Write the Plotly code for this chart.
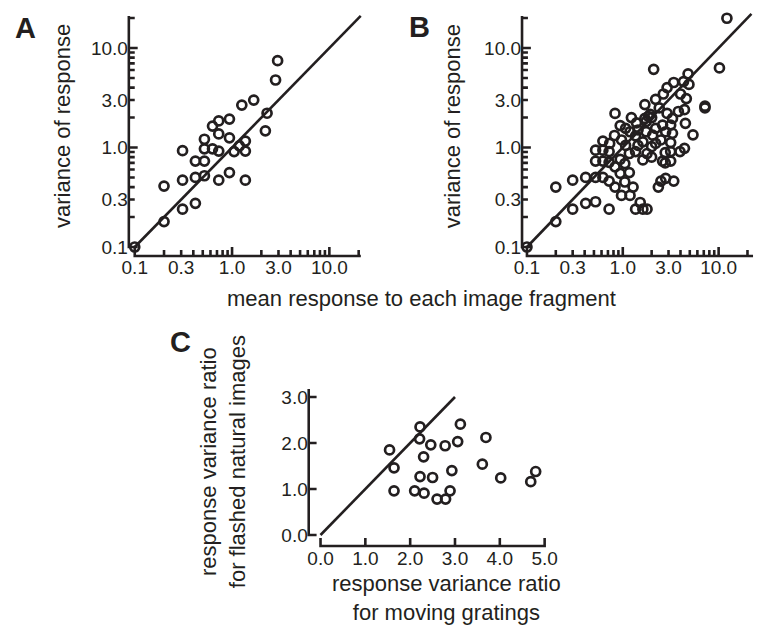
import math
import plotly.graph_objects as go

# ---------------- data ----------------
# Panel A: mean response vs variance (log-log)
a_mean = [0.1, 0.2, 0.2, 0.31, 0.31, 0.31, 0.42, 0.42, 0.42, 0.52, 0.52, 0.52, 0.52,
          0.63, 0.63, 0.73, 0.73, 0.73, 0.73, 0.94, 0.94, 0.94, 1.05, 1.19, 1.37, 1.37,
          1.37, 1.26, 1.67, 2.2, 2.29, 2.8, 2.94]
a_var = [0.1, 0.41, 0.18, 0.93, 0.47, 0.24, 0.73, 0.50, 0.275, 1.21, 0.97, 0.73, 0.52,
         1.64, 0.97, 1.85, 1.37, 0.92, 0.47, 1.93, 1.25, 0.56, 0.91, 1.04, 1.16, 0.92,
         0.47, 2.67, 3.0, 1.47, 2.21, 4.77, 7.45]

# Panel B
b_mean = [0.1, 0.2, 0.2, 0.3, 0.3, 0.41, 0.41, 0.52, 0.52, 0.52, 0.52, 0.62, 0.62, 0.62,
          0.62, 0.72, 0.72, 0.72, 0.72, 0.73, 0.83, 0.83, 0.82, 0.83, 0.94, 0.94, 0.94,
          0.97, 0.97, 1.05, 1.05, 1.07, 1.07, 1.17, 1.17, 1.19, 1.19, 1.23, 1.28, 1.36,
          1.36, 1.36, 1.39, 1.44, 1.44, 1.52, 1.62, 1.62, 1.62, 1.7, 1.7, 1.75, 1.75,
          1.79, 1.79, 1.85, 1.93, 2.0, 2.0, 2.0, 2.05, 2.1, 2.2, 2.2, 2.2, 2.35, 2.4,
          2.5, 2.5, 2.6, 2.6, 2.65, 2.77, 2.77, 2.8, 2.8, 2.9, 2.9, 3.16, 3.16, 3.16,
          3.16, 3.3, 3.3, 3.4, 3.4, 3.8, 3.95, 4.0, 4.3, 4.4, 4.4, 4.5, 4.6, 4.8, 4.9,
          5.4, 7.2, 7.2, 10.2, 12.2]
b_var = [0.1, 0.4, 0.18, 0.47, 0.24, 0.5, 0.275, 0.5, 0.285, 0.94, 0.73, 0.94, 0.73, 0.5,
         1.16, 0.91, 0.71, 0.46, 0.24, 1.1, 0.64, 0.4, 1.32, 2.2, 0.76, 0.55, 1.66,
         0.33, 1.19, 0.69, 0.45, 1.56, 1.05, 0.87, 0.56, 0.33, 1.44, 2.0, 0.4, 1.31,
         0.91, 0.24, 1.77, 1.5, 1.05, 0.28, 1.14, 0.75, 0.24, 2.7, 1.96, 1.44, 1.82,
         0.87, 0.24, 2.05, 2.15, 1.02, 0.8, 2.0, 1.33, 6.1, 1.1, 1.56, 3.05, 0.4, 2.5,
         1.19, 0.46, 0.73, 1.68, 3.45, 0.89, 0.7, 0.49, 1.44, 4.0, 2.2, 1.12, 0.91, 0.73,
         1.68, 1.39, 1.96, 4.5, 0.46, 2.3, 0.91, 3.45, 4.6, 0.98, 2.4, 1.75, 3.1, 5.5, 4.3,
         1.34, 2.6, 2.5, 6.3, 19.9]

# Panel C
c_grating = [1.54, 1.64, 1.64, 2.22, 2.21, 2.30, 2.22, 2.10, 2.31, 2.46, 2.50, 2.60,
             2.78, 2.79, 2.89, 2.93, 3.06, 3.12, 3.69, 3.61, 4.02, 4.69, 4.80]
c_natural = [1.85, 1.46, 0.96, 2.35, 2.09, 1.70, 1.27, 0.96, 0.91, 1.96, 1.25, 0.78,
             1.94, 0.78, 0.96, 1.40, 2.03, 2.41, 2.12, 1.54, 1.24, 1.16, 1.38]

# unity lines
diag_a = [0.1, 21]
diag_b = [0.1, 22]
diag_c = [0.0, 3.0]

# ticks (log panels: every tick position, labels only on some)
log_tickvals = [0.1, 0.2, 0.3, 0.4, 0.5, 0.6, 0.7, 0.8, 0.9,
                1, 2, 3, 4, 5, 6, 7, 8, 9, 10, 20]
log_ticktext = ["0.1", "", "0.3", "", "", "", "", "", "",
                "1.0", "", "3.0", "", "", "", "", "", "", "10.0", ""]
log_long_ticks = [0.1, 1, 10]
c_xticks = [0, 1, 2, 3, 4, 5]
c_xtext = ["0.0", "1.0", "2.0", "3.0", "4.0", "5.0"]
c_yticks = [0, 1, 2, 3]
c_ytext = ["0.0", "1.0", "2.0", "3.0"]

# ---------------- style / geometry ----------------
INK = "#231f20"
FONT = "Liberation Sans, Arial, Helvetica, sans-serif"
W, H = 764, 627


def X(px):
    return px / W


def Y(py):
    return 1 - py / H


class Scale:
    """pixel <-> data mapping used to lay out one axis of a panel."""

    def __init__(self, p_ref, v_ref, px_per_unit, log, sign):
        self.p_ref, self.v_ref, self.ppu, self.log, self.sign = p_ref, v_ref, px_per_unit, log, sign

    def r(self, px):  # pixel -> range units
        base = math.log10(self.v_ref) if self.log else self.v_ref
        return base + self.sign * (px - self.p_ref) / self.ppu

    def d(self, px):  # pixel -> data value
        r = self.r(px)
        return 10 ** r if self.log else r


# panel pixel boxes (domain edges, with a few px of padding around the spines)
A_DOM_X, B_DOM_X, AB_DOM_Y = (123, 365), (523, 764), (260, 13)
C_DOM_X, C_DOM_Y = (306, 554), (550, 386)
# spine positions / extents in pixels
A_SPX, B_SPX, AB_SPY, AB_TOP = 127, 527, 256, 16
A_RIGHT, B_RIGHT = 363, 762
C_SPX, C_SPY, C_TOP, C_RIGHT = 310, 546, 389, 550

sa_x = Scale(133, 0.1, 99.0, True, 1)
sb_x = Scale(532, 0.1, 97.5, True, 1)
sab_y = Scale(247, 0.1, 99.5, True, -1)
sc_x = Scale(322, 0.0, 45.6, False, 1)
sc_y = Scale(535, 0.0, 46.0, False, -1)

marker = dict(symbol="circle-open", size=9, color=INK, line=dict(width=2.7, color=INK))
tickfont = dict(family=FONT, size=19, color=INK)


def axis(dom, scale, anchor, tickvals, ticktext, horizontal, standoff=0):
    if horizontal:
        domain = [X(dom[0]), X(dom[1])]
    else:
        domain = [Y(dom[0]), Y(dom[1])]
    d = dict(domain=domain, range=[scale.r(dom[0]), scale.r(dom[1])], anchor=anchor,
             showline=False, ticks="", tickmode="array", tickvals=tickvals,
             ticktext=ticktext, ticklabelstandoff=standoff, tickfont=tickfont,
             showgrid=False, zeroline=False)
    if scale.log:
        d["type"] = "log"
    return d


fig = go.Figure()


def add_frame(xa, ya, sx, sy, spine_x_px, spine_y_px, right_px, top_px, xticks, yticks,
              long_ticks, short_len, long_len):
    """Each spine with its tick marks is drawn as one continuous polyline."""
    # vertical spine with ticks pointing right
    xs0 = sx.d(spine_x_px)
    vx, vy = [xs0], [yticks[0]]
    for v in yticks:
        L = long_len if v in long_ticks else short_len
        vx += [xs0, sx.d(spine_x_px + L), xs0]
        vy += [v, v, v]
    vx.append(xs0)
    vy.append(sy.d(top_px))
    # horizontal spine with ticks pointing up
    ys0 = sy.d(spine_y_px)
    hx, hy = [xticks[0]], [ys0]
    for v in xticks:
        L = long_len if v in long_ticks else short_len
        hx += [v, v, v]
        hy += [ys0, sy.d(spine_y_px - L), ys0]
    hx.append(sx.d(right_px))
    hy.append(ys0)
    for px_, py_ in ((vx, vy), (hx, hy)):
        fig.add_trace(go.Scatter(x=px_, y=py_, mode="lines",
                                 line=dict(color=INK, width=2.6, simplify=False),
                                 xaxis=xa, yaxis=ya, showlegend=False, hoverinfo="skip"))


add_frame("x", "y", sa_x, sab_y, A_SPX, AB_SPY, A_RIGHT, AB_TOP,
          log_tickvals, log_tickvals, log_long_ticks, 6, 9)
add_frame("x2", "y2", sb_x, sab_y, B_SPX, AB_SPY, B_RIGHT, AB_TOP,
          log_tickvals, log_tickvals, log_long_ticks, 6, 9)
add_frame("x3", "y3", sc_x, sc_y, C_SPX, C_SPY, C_RIGHT, C_TOP,
          c_xticks, c_yticks, [], 8, 8)

fig.add_trace(go.Scatter(x=diag_a, y=diag_a, mode="lines", line=dict(color=INK, width=2.6),
                         xaxis="x", yaxis="y", showlegend=False, hoverinfo="skip"))
fig.add_trace(go.Scatter(x=a_mean, y=a_var, mode="markers", marker=marker, cliponaxis=False,
                         xaxis="x", yaxis="y", showlegend=False))
fig.add_trace(go.Scatter(x=diag_b, y=diag_b, mode="lines", line=dict(color=INK, width=2.6),
                         xaxis="x2", yaxis="y2", showlegend=False, hoverinfo="skip"))
fig.add_trace(go.Scatter(x=b_mean, y=b_var, mode="markers", marker=marker, cliponaxis=False,
                         xaxis="x2", yaxis="y2", showlegend=False))
fig.add_trace(go.Scatter(x=diag_c, y=diag_c, mode="lines", line=dict(color=INK, width=2.6),
                         xaxis="x3", yaxis="y3", showlegend=False, hoverinfo="skip"))
fig.add_trace(go.Scatter(x=c_grating, y=c_natural, mode="markers", marker=marker, cliponaxis=False,
                         xaxis="x3", yaxis="y3", showlegend=False))

fig.update_layout(
    width=W, height=H, margin=dict(l=0, r=0, t=0, b=0),
    paper_bgcolor="white", plot_bgcolor="rgba(0,0,0,0)",
    xaxis=axis(A_DOM_X, sa_x, "y", log_tickvals, log_ticktext, True, standoff=-6),
    yaxis=axis(AB_DOM_Y, sab_y, "x", log_tickvals, log_ticktext, False, standoff=-4),
    xaxis2=axis(B_DOM_X, sb_x, "y2", log_tickvals, log_ticktext, True, standoff=-6),
    yaxis2=axis(AB_DOM_Y, sab_y, "x2", log_tickvals, log_ticktext, False, standoff=-4),
    xaxis3=axis(C_DOM_X, sc_x, "y3", c_xticks, c_xtext, True, standoff=-5),
    yaxis3=axis(C_DOM_Y, sc_y, "x3", c_yticks, c_ytext, False, standoff=-4),
)

ann = []
title_font = dict(family=FONT, size=22, color=INK)
letter_font = dict(family="Liberation Sans, Arial, sans-serif", size=29, color=INK)
ann.append(dict(text="<b>A</b>", x=X(22), y=Y(28), font=letter_font))
ann.append(dict(text="<b>B</b>", x=X(422.5), y=Y(27), font=letter_font))
ann.append(dict(text="<b>C</b>", x=X(180), y=Y(342), font=letter_font))
ann.append(dict(text="variance of response", x=X(60), y=Y(126), textangle=-90, font=title_font))
ann.append(dict(text="variance of response", x=X(457), y=Y(126), textangle=-90, font=title_font))
ann.append(dict(text="mean response to each image fragment", x=X(425), y=Y(298), font=title_font))
ann.append(dict(text="response variance ratio<br>for flashed natural images", x=X(223), y=Y(462),
                textangle=-90, font=title_font))
ann.append(dict(text="response variance ratio<br>for moving gratings", x=X(450), y=Y(598),
                font=title_font))
for a in ann:
    a.update(xref="paper", yref="paper", showarrow=False, xanchor="center", yanchor="middle")
fig.update_layout(annotations=ann)

fig.write_html("out.html")
